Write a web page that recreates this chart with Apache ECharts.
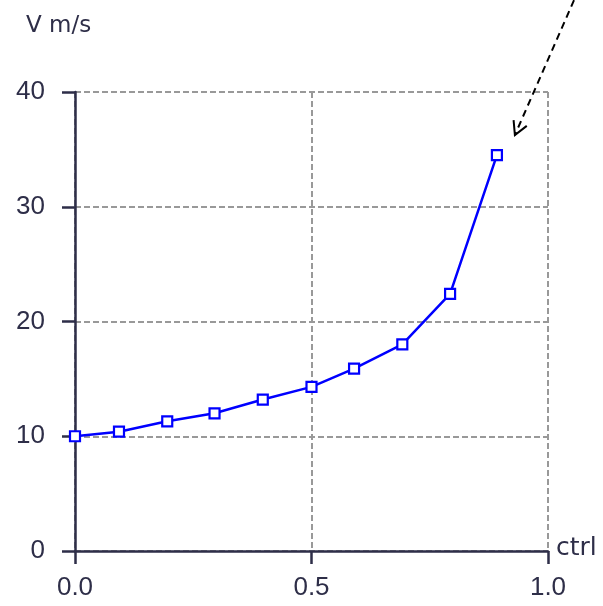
<!DOCTYPE html>
<html><head><meta charset="utf-8">
<script src="https://cdn.jsdelivr.net/npm/echarts@6/dist/echarts.min.js"></script>
<style>html,body{margin:0;padding:0;background:#fff}#c{width:603px;height:606px}</style>
</head><body><div id="c"></div>
<script>
const ctrlValues = [0.0, 0.093, 0.195, 0.295, 0.397, 0.5, 0.59, 0.692, 0.793, 0.892];
const speedValues = [10.0, 10.4, 11.3, 12.0, 13.2, 14.3, 15.9, 18.0, 22.4, 34.5];
const xTicks = ['0.0', '0.5', '1.0'];
const yTicks = [0, 10, 20, 30, 40];
const arrowStart = [1.055, 48.0];
const arrowTip = [0.930, 36.25];

const axisColor = '#2e2e48';
const textColor = '#2e2e48';
const font = 'Liberation Sans';
const chart = echarts.init(document.getElementById('c'));
chart.setOption({
  animation: false,
  backgroundColor: '#fff',
  title: { text: 'V m/s', left: 21, top: 10, textStyle: { fontFamily: 'DejaVu Sans', fontSize: 23, fontWeight: 'normal', color: textColor } },
  grid: { left: 75, right: 55, top: 92, bottom: 55 },
  xAxis: {
    type: 'value', min: 0, max: 1, interval: 0.5,
    name: 'ctrl', nameLocation: 'end', nameGap: 8,
    nameTextStyle: { fontFamily: 'DejaVu Sans', fontSize: 25, color: textColor, verticalAlign: 'bottom', padding: [0,0,-10,0] },
    axisLine: { lineStyle: { color: axisColor, width: 2.5 } },
    axisTick: { show: true, length: 13, lineStyle: { color: axisColor, width: 2.5 } },
    axisLabel: { fontFamily: font, fontSize: 26, color: textColor, margin: 24, formatter: v => xTicks[Math.round(v * 2)] },
    splitLine: { show: true, lineStyle: { color: '#999999', type: [6, 3], width: 2 } }
  },
  yAxis: {
    type: 'value', min: 0, max: 40, interval: 10,
    axisLine: { show: true, lineStyle: { color: axisColor, width: 2.5 } },
    axisTick: { show: true, length: 13, lineStyle: { color: axisColor, width: 2.5 } },
    axisLabel: { fontFamily: font, fontSize: 26, color: textColor, margin: 30, formatter: v => String(yTicks[Math.round(v / 10)]) },
    splitLine: { show: true, lineStyle: { color: '#999999', type: [6, 3], width: 2 } }
  },
  series: [{
    type: 'line',
    data: ctrlValues.map((x, i) => [x, speedValues[i]]),
    symbol: 'rect', symbolSize: 10, showSymbol: true,
    lineStyle: { color: '#0000ff', width: 2.5 },
    itemStyle: { color: '#ffffff', borderColor: '#0000ff', borderWidth: 2.2 },
    z: 5
  }]
});
const p0 = chart.convertToPixel({ gridIndex: 0 }, arrowStart);
const p1 = chart.convertToPixel({ gridIndex: 0 }, arrowTip);
const ang = Math.atan2(p1[1] - p0[1], p1[0] - p0[0]);
const L = 15, spread = 0.5;
const a1 = [p1[0] - L * Math.cos(ang - spread), p1[1] - L * Math.sin(ang - spread)];
const a2 = [p1[0] - L * Math.cos(ang + spread), p1[1] - L * Math.sin(ang + spread)];
chart.setOption({
  graphic: [
    { type: 'line', shape: { x1: p0[0], y1: p0[1], x2: p1[0], y2: p1[1] }, style: { stroke: '#000', lineWidth: 2, lineDash: [7, 5] }, z: 10 },
    { type: 'polyline', shape: { points: [a1, p1, a2] }, style: { stroke: '#000', lineWidth: 2, fill: null }, z: 10 }
  ]
});
</script></body></html>
